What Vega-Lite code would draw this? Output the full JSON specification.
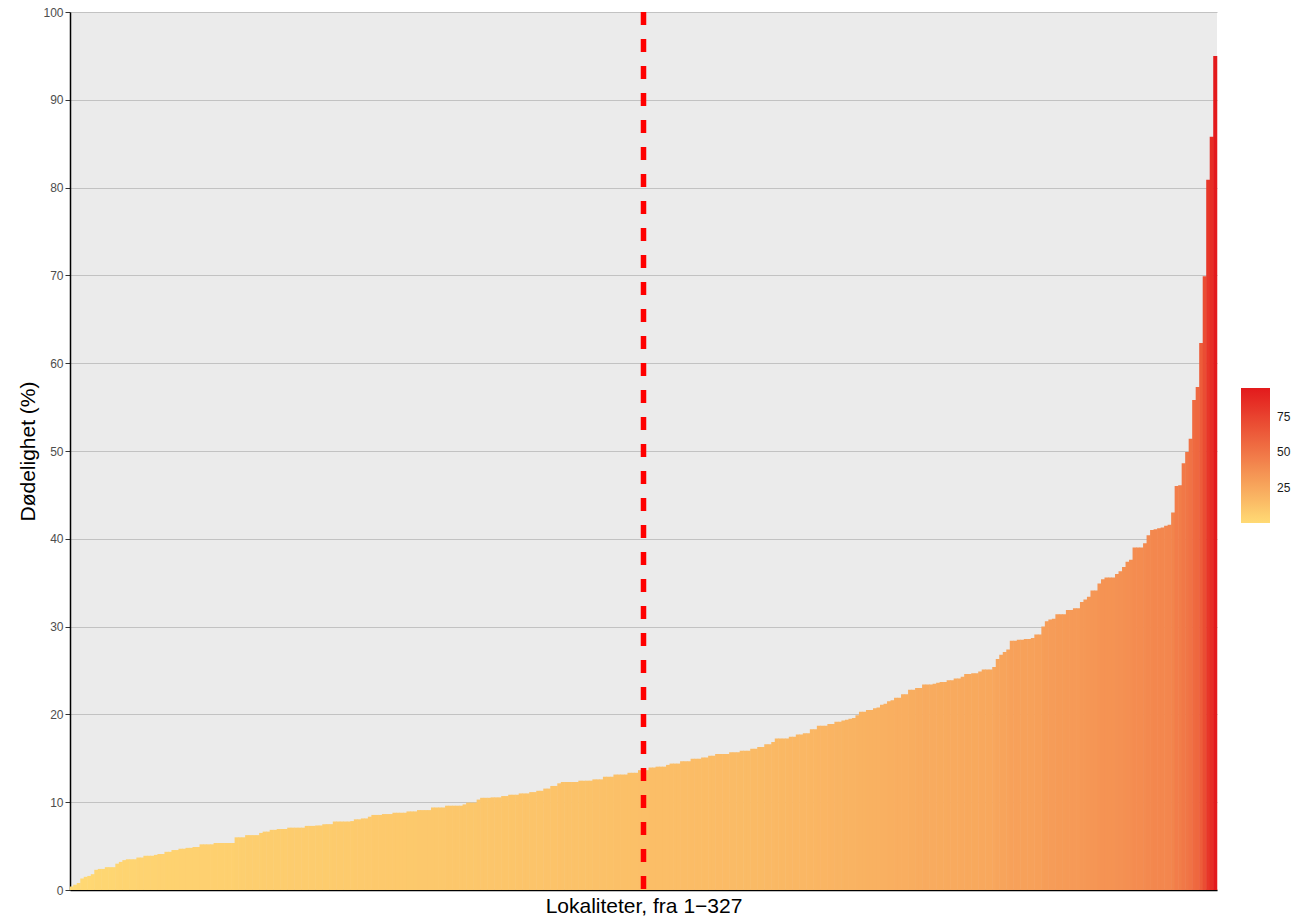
{
  "$schema": "https://vega.github.io/schema/vega-lite/v6.json",
  "width": 1147,
  "height": 878,
  "autosize": {"type": "none"},
  "padding": {"left": 70, "top": 12, "right": 78, "bottom": 30},
  "background": "#FFFFFF",
  "config": {
    "view": {"fill": "#EBEBEB", "stroke": null},
    "font": "Liberation Sans"
  },
  "datasets": {
    "bars": [
      {"i":1,"v":0.4},{"i":2,"v":0.6},{"i":3,"v":0.8},{"i":4,"v":1.3},{"i":5,"v":1.5},{"i":6,"v":1.6},{"i":7,"v":1.8},{"i":8,"v":2.3},{"i":9,"v":2.4},{"i":10,"v":2.4},
      {"i":11,"v":2.6},{"i":12,"v":2.6},{"i":13,"v":2.6},{"i":14,"v":3.0},{"i":15,"v":3.2},{"i":16,"v":3.4},{"i":17,"v":3.5},{"i":18,"v":3.5},{"i":19,"v":3.5},{"i":20,"v":3.7},
      {"i":21,"v":3.7},{"i":22,"v":3.9},{"i":23,"v":3.9},{"i":24,"v":3.9},{"i":25,"v":4.0},{"i":26,"v":4.1},{"i":27,"v":4.1},{"i":28,"v":4.35},{"i":29,"v":4.35},{"i":30,"v":4.55},
      {"i":31,"v":4.55},{"i":32,"v":4.7},{"i":33,"v":4.7},{"i":34,"v":4.8},{"i":35,"v":4.8},{"i":36,"v":4.9},{"i":37,"v":4.9},{"i":38,"v":5.2},{"i":39,"v":5.2},{"i":40,"v":5.2},
      {"i":41,"v":5.2},{"i":42,"v":5.35},{"i":43,"v":5.35},{"i":44,"v":5.35},{"i":45,"v":5.35},{"i":46,"v":5.35},{"i":47,"v":5.35},{"i":48,"v":6.0},{"i":49,"v":6.0},{"i":50,"v":6.0},
      {"i":51,"v":6.25},{"i":52,"v":6.25},{"i":53,"v":6.25},{"i":54,"v":6.25},{"i":55,"v":6.5},{"i":56,"v":6.65},{"i":57,"v":6.65},{"i":58,"v":6.85},{"i":59,"v":6.85},{"i":60,"v":6.95},
      {"i":61,"v":6.95},{"i":62,"v":6.95},{"i":63,"v":7.1},{"i":64,"v":7.1},{"i":65,"v":7.1},{"i":66,"v":7.1},{"i":67,"v":7.1},{"i":68,"v":7.3},{"i":69,"v":7.3},{"i":70,"v":7.3},
      {"i":71,"v":7.35},{"i":72,"v":7.35},{"i":73,"v":7.5},{"i":74,"v":7.5},{"i":75,"v":7.5},{"i":76,"v":7.8},{"i":77,"v":7.8},{"i":78,"v":7.8},{"i":79,"v":7.8},{"i":80,"v":7.8},
      {"i":81,"v":7.85},{"i":82,"v":8.05},{"i":83,"v":8.05},{"i":84,"v":8.15},{"i":85,"v":8.15},{"i":86,"v":8.35},{"i":87,"v":8.55},{"i":88,"v":8.55},{"i":89,"v":8.55},{"i":90,"v":8.65},
      {"i":91,"v":8.65},{"i":92,"v":8.65},{"i":93,"v":8.8},{"i":94,"v":8.8},{"i":95,"v":8.8},{"i":96,"v":8.8},{"i":97,"v":8.95},{"i":98,"v":8.95},{"i":99,"v":8.95},{"i":100,"v":9.1},
      {"i":101,"v":9.1},{"i":102,"v":9.1},{"i":103,"v":9.1},{"i":104,"v":9.4},{"i":105,"v":9.4},{"i":106,"v":9.4},{"i":107,"v":9.4},{"i":108,"v":9.6},{"i":109,"v":9.6},{"i":110,"v":9.6},
      {"i":111,"v":9.6},{"i":112,"v":9.6},{"i":113,"v":9.75},{"i":114,"v":9.95},{"i":115,"v":9.95},{"i":116,"v":9.95},{"i":117,"v":10.3},{"i":118,"v":10.5},{"i":119,"v":10.5},{"i":120,"v":10.5},
      {"i":121,"v":10.55},{"i":122,"v":10.55},{"i":123,"v":10.55},{"i":124,"v":10.7},{"i":125,"v":10.7},{"i":126,"v":10.85},{"i":127,"v":10.85},{"i":128,"v":10.85},{"i":129,"v":11.0},{"i":130,"v":11.0},
      {"i":131,"v":11.0},{"i":132,"v":11.15},{"i":133,"v":11.15},{"i":134,"v":11.3},{"i":135,"v":11.3},{"i":136,"v":11.55},{"i":137,"v":11.55},{"i":138,"v":11.85},{"i":139,"v":11.85},{"i":140,"v":12.15},
      {"i":141,"v":12.3},{"i":142,"v":12.3},{"i":143,"v":12.3},{"i":144,"v":12.3},{"i":145,"v":12.3},{"i":146,"v":12.45},{"i":147,"v":12.45},{"i":148,"v":12.45},{"i":149,"v":12.45},{"i":150,"v":12.6},
      {"i":151,"v":12.6},{"i":152,"v":12.6},{"i":153,"v":12.9},{"i":154,"v":12.9},{"i":155,"v":12.9},{"i":156,"v":13.15},{"i":157,"v":13.15},{"i":158,"v":13.15},{"i":159,"v":13.15},{"i":160,"v":13.35},
      {"i":161,"v":13.35},{"i":162,"v":13.35},{"i":163,"v":13.65},{"i":164,"v":13.65},{"i":165,"v":13.65},{"i":166,"v":13.95},{"i":167,"v":13.95},{"i":168,"v":14.05},{"i":169,"v":14.05},{"i":170,"v":14.05},
      {"i":171,"v":14.25},{"i":172,"v":14.4},{"i":173,"v":14.4},{"i":174,"v":14.4},{"i":175,"v":14.65},{"i":176,"v":14.65},{"i":177,"v":14.65},{"i":178,"v":14.95},{"i":179,"v":14.95},{"i":180,"v":14.95},
      {"i":181,"v":15.1},{"i":182,"v":15.1},{"i":183,"v":15.3},{"i":184,"v":15.3},{"i":185,"v":15.5},{"i":186,"v":15.5},{"i":187,"v":15.5},{"i":188,"v":15.5},{"i":189,"v":15.7},{"i":190,"v":15.7},
      {"i":191,"v":15.7},{"i":192,"v":15.85},{"i":193,"v":15.85},{"i":194,"v":15.85},{"i":195,"v":16.1},{"i":196,"v":16.1},{"i":197,"v":16.3},{"i":198,"v":16.3},{"i":199,"v":16.6},{"i":200,"v":16.6},
      {"i":201,"v":16.85},{"i":202,"v":17.25},{"i":203,"v":17.25},{"i":204,"v":17.25},{"i":205,"v":17.25},{"i":206,"v":17.45},{"i":207,"v":17.45},{"i":208,"v":17.7},{"i":209,"v":17.7},{"i":210,"v":17.85},
      {"i":211,"v":17.85},{"i":212,"v":18.3},{"i":213,"v":18.3},{"i":214,"v":18.7},{"i":215,"v":18.7},{"i":216,"v":18.7},{"i":217,"v":18.9},{"i":218,"v":18.9},{"i":219,"v":19.15},{"i":220,"v":19.15},
      {"i":221,"v":19.3},{"i":222,"v":19.4},{"i":223,"v":19.5},{"i":224,"v":19.6},{"i":225,"v":19.9},{"i":226,"v":20.3},{"i":227,"v":20.3},{"i":228,"v":20.5},{"i":229,"v":20.5},{"i":230,"v":20.7},
      {"i":231,"v":20.8},{"i":232,"v":21.1},{"i":233,"v":21.2},{"i":234,"v":21.5},{"i":235,"v":21.6},{"i":236,"v":21.9},{"i":237,"v":21.9},{"i":238,"v":22.3},{"i":239,"v":22.3},{"i":240,"v":22.8},
      {"i":241,"v":22.8},{"i":242,"v":23.0},{"i":243,"v":23.0},{"i":244,"v":23.4},{"i":245,"v":23.4},{"i":246,"v":23.4},{"i":247,"v":23.5},{"i":248,"v":23.6},{"i":249,"v":23.7},{"i":250,"v":23.7},
      {"i":251,"v":23.9},{"i":252,"v":23.9},{"i":253,"v":24.1},{"i":254,"v":24.1},{"i":255,"v":24.3},{"i":256,"v":24.6},{"i":257,"v":24.6},{"i":258,"v":24.7},{"i":259,"v":24.7},{"i":260,"v":24.9},
      {"i":261,"v":25.1},{"i":262,"v":25.1},{"i":263,"v":25.1},{"i":264,"v":25.4},{"i":265,"v":26.3},{"i":266,"v":26.8},{"i":267,"v":27.1},{"i":268,"v":27.4},{"i":269,"v":28.4},{"i":270,"v":28.4},
      {"i":271,"v":28.5},{"i":272,"v":28.5},{"i":273,"v":28.6},{"i":274,"v":28.6},{"i":275,"v":28.7},{"i":276,"v":29.1},{"i":277,"v":29.1},{"i":278,"v":30.0},{"i":279,"v":30.6},{"i":280,"v":30.8},
      {"i":281,"v":30.9},{"i":282,"v":31.4},{"i":283,"v":31.4},{"i":284,"v":31.4},{"i":285,"v":31.9},{"i":286,"v":31.9},{"i":287,"v":32.1},{"i":288,"v":32.1},{"i":289,"v":32.8},{"i":290,"v":33.1},
      {"i":291,"v":33.4},{"i":292,"v":34.1},{"i":293,"v":34.1},{"i":294,"v":34.9},{"i":295,"v":35.4},{"i":296,"v":35.6},{"i":297,"v":35.6},{"i":298,"v":35.6},{"i":299,"v":36.0},{"i":300,"v":36.3},
      {"i":301,"v":36.8},{"i":302,"v":37.4},{"i":303,"v":37.6},{"i":304,"v":39.0},{"i":305,"v":39.0},{"i":306,"v":39.0},{"i":307,"v":39.5},{"i":308,"v":40.4},{"i":309,"v":41.0},{"i":310,"v":41.1},
      {"i":311,"v":41.2},{"i":312,"v":41.3},{"i":313,"v":41.5},{"i":314,"v":41.6},{"i":315,"v":43.0},{"i":316,"v":46.0},{"i":317,"v":46.1},{"i":318,"v":48.6},{"i":319,"v":49.9},{"i":320,"v":51.4},
      {"i":321,"v":55.8},{"i":322,"v":57.3},{"i":323,"v":62.3},{"i":324,"v":69.9},{"i":325,"v":80.9},{"i":326,"v":85.8},{"i":327,"v":95.0}
    ],
    "median": [{"i": 164}]
  },
  "layer": [
    {
      "data": {"name": "bars"},
      "mark": {"type": "bar", "width": {"band": 1.15}},
      "encoding": {
        "x": {
          "field": "i",
          "type": "ordinal",
          "scale": {"paddingInner": 0, "paddingOuter": 0},
          "axis": {
            "title": "Lokaliteter, fra 1\u2212327",
            "labels": false,
            "ticks": false,
            "domain": true,
            "domainColor": "#000000",
            "domainWidth": 1.5,
            "grid": false,
            "titleFontSize": 21,
            "titleFontWeight": "normal",
            "titleColor": "#000000",
            "titlePadding": 5
          }
        },
        "y": {
          "field": "v",
          "type": "quantitative",
          "scale": {"domain": [0, 100], "nice": false},
          "axis": {
            "title": "D\u00f8delighet (%)",
            "values": [0, 10, 20, 30, 40, 50, 60, 70, 80, 90, 100],
            "grid": true,
            "gridColor": "#C2C2C2",
            "gridWidth": 1,
            "domainColor": "#000000",
            "domainWidth": 1.5,
            "tickColor": "#333333",
            "tickSize": 5,
            "labelFontSize": 12,
            "labelColor": "#4D4D4D",
            "labelPadding": 2,
            "titleFontSize": 21,
            "titleFontWeight": "normal",
            "titleColor": "#000000",
            "titlePadding": 4
          }
        },
        "color": {
          "field": "v",
          "type": "quantitative",
          "scale": {"range": ["#FFDA74", "#E31A1C"], "interpolate": "rgb"},
          "legend": {
            "title": null,
            "orient": "none",
            "legendX": 1171,
            "legendY": 376,
            "direction": "vertical",
            "gradientLength": 135,
            "gradientThickness": 29,
            "gradientStrokeWidth": 0,
            "values": [25, 50, 75],
            "labelFontSize": 12,
            "labelColor": "#1A1A1A",
            "labelOffset": 7
          }
        }
      }
    },
    {
      "data": {"name": "median"},
      "mark": {"type": "rule", "color": "#FF0000", "strokeWidth": 5.5, "strokeDash": [13, 14]},
      "encoding": {
        "x": {"field": "i", "type": "ordinal"}
      }
    }
  ]
}
